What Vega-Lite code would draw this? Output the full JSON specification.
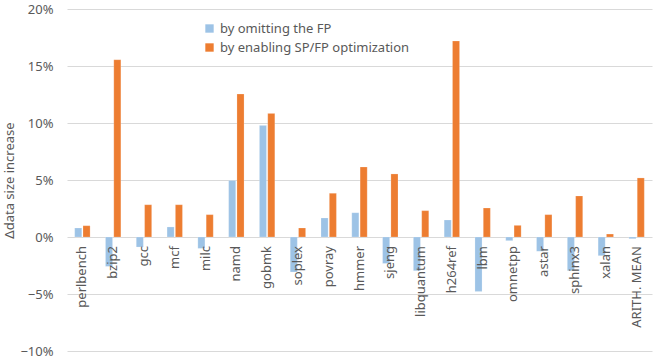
{
  "$schema": "https://vega.github.io/schema/vega-lite/v6.json",
  "width": 585,
  "height": 342,
  "autosize": "none",
  "padding": {"left": 67, "top": 9, "right": 2, "bottom": 9},
  "background": "white",
  "config": {
    "view": {"stroke": null},
    "font": "Noto Sans",
    "axis": {"labelColor": "#595959", "titleColor": "#595959", "labelFont": "Noto Sans", "titleFont": "Noto Sans"}
  },
  "datasets": {
    "bars": [
      {"bench": "perlbench", "series": "by omitting the FP", "value": 0.0079},
      {"bench": "perlbench", "series": "by enabling SP/FP optimization", "value": 0.0099},
      {"bench": "bzip2", "series": "by omitting the FP", "value": -0.0258},
      {"bench": "bzip2", "series": "by enabling SP/FP optimization", "value": 0.1555},
      {"bench": "gcc", "series": "by omitting the FP", "value": -0.0088},
      {"bench": "gcc", "series": "by enabling SP/FP optimization", "value": 0.0283},
      {"bench": "mcf", "series": "by omitting the FP", "value": 0.0088},
      {"bench": "mcf", "series": "by enabling SP/FP optimization", "value": 0.0283},
      {"bench": "milc", "series": "by omitting the FP", "value": -0.0100},
      {"bench": "milc", "series": "by enabling SP/FP optimization", "value": 0.0196},
      {"bench": "namd", "series": "by omitting the FP", "value": 0.0496},
      {"bench": "namd", "series": "by enabling SP/FP optimization", "value": 0.1254},
      {"bench": "gobmk", "series": "by omitting the FP", "value": 0.0979},
      {"bench": "gobmk", "series": "by enabling SP/FP optimization", "value": 0.1084},
      {"bench": "soplex", "series": "by omitting the FP", "value": -0.0307},
      {"bench": "soplex", "series": "by enabling SP/FP optimization", "value": 0.0079},
      {"bench": "povray", "series": "by omitting the FP", "value": 0.0167},
      {"bench": "povray", "series": "by enabling SP/FP optimization", "value": 0.0383},
      {"bench": "hmmer", "series": "by omitting the FP", "value": 0.0213},
      {"bench": "hmmer", "series": "by enabling SP/FP optimization", "value": 0.0614},
      {"bench": "sjeng", "series": "by omitting the FP", "value": -0.0232},
      {"bench": "sjeng", "series": "by enabling SP/FP optimization", "value": 0.0553},
      {"bench": "libquantum", "series": "by omitting the FP", "value": -0.0296},
      {"bench": "libquantum", "series": "by enabling SP/FP optimization", "value": 0.0231},
      {"bench": "h264ref", "series": "by omitting the FP", "value": 0.0149},
      {"bench": "h264ref", "series": "by enabling SP/FP optimization", "value": 0.1719},
      {"bench": "lbm", "series": "by omitting the FP", "value": -0.0477},
      {"bench": "lbm", "series": "by enabling SP/FP optimization", "value": 0.0254},
      {"bench": "omnetpp", "series": "by omitting the FP", "value": -0.0032},
      {"bench": "omnetpp", "series": "by enabling SP/FP optimization", "value": 0.0102},
      {"bench": "astar", "series": "by omitting the FP", "value": -0.0126},
      {"bench": "astar", "series": "by enabling SP/FP optimization", "value": 0.0196},
      {"bench": "sphinx3", "series": "by omitting the FP", "value": -0.0296},
      {"bench": "sphinx3", "series": "by enabling SP/FP optimization", "value": 0.0360},
      {"bench": "xalan", "series": "by omitting the FP", "value": -0.0164},
      {"bench": "xalan", "series": "by enabling SP/FP optimization", "value": 0.0026},
      {"bench": "ARITH. MEAN", "series": "by omitting the FP", "value": -0.0015},
      {"bench": "ARITH. MEAN", "series": "by enabling SP/FP optimization", "value": 0.0518}
    ],
    "labels": [
      {"bench": "perlbench"}, {"bench": "bzip2"}, {"bench": "gcc"}, {"bench": "mcf"}, {"bench": "milc"},
      {"bench": "namd"}, {"bench": "gobmk"}, {"bench": "soplex"}, {"bench": "povray"}, {"bench": "hmmer"},
      {"bench": "sjeng"}, {"bench": "libquantum"}, {"bench": "h264ref"}, {"bench": "lbm"}, {"bench": "omnetpp"},
      {"bench": "astar"}, {"bench": "sphinx3"}, {"bench": "xalan"}, {"bench": "ARITH. MEAN"}
    ]
  },
  "layer": [
    {
      "data": {"name": "bars"},
      "mark": {"type": "bar", "stroke": "white", "strokeOpacity": 0.4, "strokeWidth": 0.5},
      "encoding": {
        "x": {
          "field": "bench", "type": "nominal", "sort": null,
          "scale": {"paddingInner": 0.5, "paddingOuter": 0.25},
          "axis": null
        },
        "xOffset": {
          "field": "series", "type": "nominal",
          "sort": ["by omitting the FP", "by enabling SP/FP optimization"],
          "scale": {"paddingInner": 0.15}
        },
        "y": {
          "field": "value", "type": "quantitative",
          "scale": {"domain": [-0.1, 0.2], "nice": false},
          "axis": {
            "values": [-0.1, -0.05, 0, 0.05, 0.1, 0.15, 0.2],
            "format": ".0%",
            "domain": false,
            "ticks": false,
            "labelPadding": 14,
            "labelFontSize": 13,
            "gridColor": "#d9d9d9",
            "gridWidth": 1,
            "title": "Δdata size increase",
            "titleFontSize": 13,
            "titleFontWeight": "normal",
            "titlePadding": 3
          }
        },
        "color": {
          "field": "series", "type": "nominal",
          "scale": {
            "domain": ["by omitting the FP", "by enabling SP/FP optimization"],
            "range": ["#9dc3e6", "#ed7d31"]
          },
          "legend": {
            "title": null,
            "orient": "none",
            "legendX": 136,
            "legendY": 13,
            "symbolType": "square",
            "symbolSize": 70,
            "symbolStrokeWidth": 0,
            "labelFontSize": 13,
            "labelColor": "#595959",
            "labelFont": "Noto Sans",
            "labelLimit": 0,
            "rowPadding": 5,
            "labelOffset": 4
          }
        }
      }
    },
    {
      "data": {"name": "labels"},
      "mark": {"type": "text", "angle": 270, "align": "right", "baseline": "middle", "dx": -9, "fontSize": 13, "color": "#595959", "font": "Noto Sans"},
      "encoding": {
        "x": {"field": "bench", "type": "nominal", "sort": null},
        "y": {"datum": 0, "type": "quantitative"},
        "text": {"field": "bench"}
      }
    }
  ]
}
